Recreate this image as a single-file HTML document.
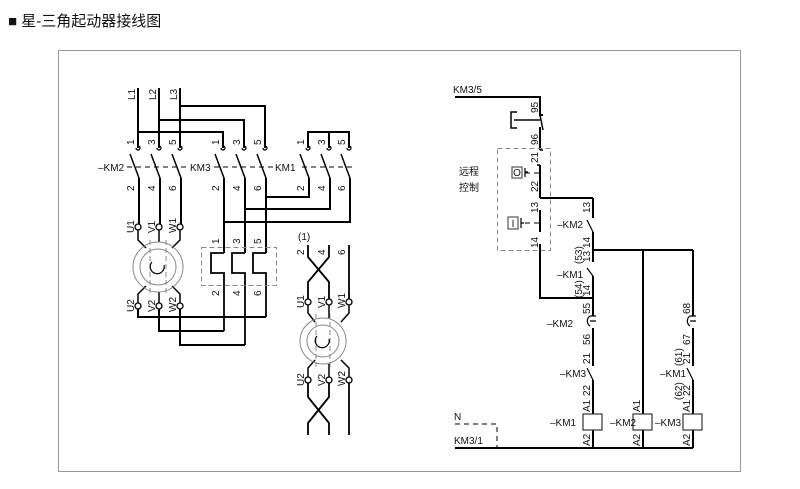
<!DOCTYPE html>
<html><head><meta charset="utf-8"><style>
body{margin:0;background:#fff;width:800px;height:489px;overflow:hidden}
svg{display:block}
text{font-family:"Liberation Sans","Noto Sans CJK SC",sans-serif;font-size:10px;fill:#111}
.t{font-size:15px}
</style></head><body>
<svg width="800" height="489" viewBox="0 0 800 489" xmlns="http://www.w3.org/2000/svg">
<text class="t" x="8" y="26">■ 星-三角起动器接线图</text>
<rect x="58.5" y="50.5" width="682" height="421" fill="none" stroke="#999" stroke-width="1"/>
<g stroke="#000" stroke-width="2" fill="none">
<path d="M138 88V148M159 88V148M180 88V148"/>
<path d="M138 132H223V148M159 120H244V148M180 106H265V148"/>
<path d="M308 148V132H349V148M329 132V148"/>
<path d="M130 154L139 178M151 154L160 178M172 154L181 178M215 154L224 178M236 154L245 178M257 154L266 178M300 154L309 178M321 154L330 178M341 154L350 178" stroke-width="1.5"/>
<path d="M139 178V224M160 178V224M181 178V224"/>
<path d="M224 178V253M245 178V253M266 178V253"/>
<path d="M309 178V197H266M330 178V209H245M350 178V222H224"/>
<path d="M224 253H211V273H224V331M245 253H232V273H245V345M266 253H253V273H266V317" stroke-width="1.8"/>
<path d="M138 309V317H266M159 309V331H224M180 309V345H245"/>
<path d="M138 230V240L146 248M159 230V242M180 230V240L172 248M138 303V294L146 286M159 303V292M180 303V294L172 286" stroke-width="1.5"/>
<path d="M308 245V257L329 282V299M329 245V257L308 282V299M349 245V299" stroke-width="1.8"/>
<path d="M308 305V313L315 322M329 305V318M349 305V313L341 322M308 377V368L315 360M329 377V364M349 377V368L341 360" stroke-width="1.5"/>
<path d="M308 383V397L329 423V435M329 383V397L308 423V435M349 383V435" stroke-width="1.8"/>
<path d="M455 97H540V115H543M540 127V150M540 165V198M540 210V232M540 244V298H593M593 198H540M593 198V218M593 232V262M593 276V316M593 328V366M593 380V414M593 430V448M455 448H693M593 250H693M643 250V414M643 430V448M693 250V316M693 328V366M693 380V414M693 430V448"/>
<path d="M517 112H511V128H517M514 120H540M540 115L543 130M540 150L543 150M540 165H537" stroke-width="1.5"/>
</g>
<g stroke="#000" stroke-width="1.3" fill="#fff">
<circle cx="138" cy="227" r="3"/><circle cx="159" cy="227" r="3"/><circle cx="180" cy="227" r="3"/>
<circle cx="138" cy="306" r="3"/><circle cx="159" cy="306" r="3"/><circle cx="180" cy="306" r="3"/>
<circle cx="308" cy="302" r="3"/><circle cx="329" cy="302" r="3"/><circle cx="349" cy="302" r="3"/>
<circle cx="308" cy="380" r="3"/><circle cx="329" cy="380" r="3"/><circle cx="349" cy="380" r="3"/>
<path d="M136 148a2 2 0 1 0 2 -2M157 148a2 2 0 1 0 2 -2M178 148a2 2 0 1 0 2 -2M221 148a2 2 0 1 0 2 -2M242 148a2 2 0 1 0 2 -2M263 148a2 2 0 1 0 2 -2M306 148a2 2 0 1 0 2 -2M327 148a2 2 0 1 0 2 -2M347 148a2 2 0 1 0 2 -2" fill="none"/>
</g>
<g fill="none" stroke="#888" stroke-width="1">
<circle cx="158" cy="267" r="25"/><circle cx="158" cy="267" r="18"/>
<path d="M150 240V294M166 240V294" stroke-dasharray="5 3"/>
<circle cx="323" cy="341" r="23"/><circle cx="323" cy="341" r="16"/>
<path d="M316 314V368M330 314V368" stroke-dasharray="5 3"/>
<rect x="201.5" y="247.5" width="75" height="38" stroke-dasharray="5 3"/>
<rect x="497.5" y="148.5" width="53" height="102" stroke-dasharray="5 3"/>
</g>
<path d="M152 262a7 7 0 1 0 12 3" fill="none" stroke="#000" stroke-width="1.2"/>
<path d="M317 336a7 7 0 1 0 12 3" fill="none" stroke="#000" stroke-width="1.2"/>
<g stroke="#000" stroke-width="1" stroke-dasharray="5 4" fill="none">
<path d="M127 167H188M214 167H273M302 167H356"/>
<path d="M455 424H497V448"/>
<path d="M525 173H540M525 223H540"/>
</g>
<g fill="none" stroke="#000" stroke-width="1.2">
<rect x="512" y="167" width="10" height="11" stroke="#555"/><path d="M525 168V177M525 172H528"/>
<rect x="508" y="217" width="10" height="12" stroke="#555"/><path d="M521 218V228M521 223H524"/>
<path d="M587 220L593 232M587 268L593 276M587 368L593 380M687 368L693 380" stroke-width="1.2"/>
<path d="M590 316H596M590 321H596M590 316a6 6 0 0 0 0 10M690 316H696M690 321H696M690 316a6 6 0 0 0 0 10"/>
<rect x="583" y="414" width="19" height="16" stroke="#333"/>
<rect x="633" y="414" width="19" height="16" stroke="#333"/>
<rect x="683" y="414" width="19" height="16" stroke="#333"/>
</g>
<g text-anchor="middle">
<text x="517" y="176" font-size="9">O</text><text x="513" y="227" font-size="9">I</text>
</g>
<g>
<text transform="translate(135,100) rotate(-90)">L1</text>
<text transform="translate(156,100) rotate(-90)">L2</text>
<text transform="translate(177,100) rotate(-90)">L3</text>
<text transform="translate(134,145) rotate(-90)">1</text><text transform="translate(155,145) rotate(-90)">3</text><text transform="translate(176,145) rotate(-90)">5</text>
<text transform="translate(219,145) rotate(-90)">1</text><text transform="translate(240,145) rotate(-90)">3</text><text transform="translate(261,145) rotate(-90)">5</text>
<text transform="translate(304,145) rotate(-90)">1</text><text transform="translate(325,145) rotate(-90)">3</text><text transform="translate(345,145) rotate(-90)">5</text>
<text transform="translate(134,191) rotate(-90)">2</text><text transform="translate(155,191) rotate(-90)">4</text><text transform="translate(176,191) rotate(-90)">6</text>
<text transform="translate(219,191) rotate(-90)">2</text><text transform="translate(240,191) rotate(-90)">4</text><text transform="translate(261,191) rotate(-90)">6</text>
<text transform="translate(304,191) rotate(-90)">2</text><text transform="translate(325,191) rotate(-90)">4</text><text transform="translate(345,191) rotate(-90)">6</text>
<text transform="translate(219,244) rotate(-90)">1</text><text transform="translate(240,244) rotate(-90)">3</text><text transform="translate(261,244) rotate(-90)">5</text>
<text transform="translate(219,296) rotate(-90)">2</text><text transform="translate(240,296) rotate(-90)">4</text><text transform="translate(261,296) rotate(-90)">6</text>
<text transform="translate(304,255) rotate(-90)">2</text><text transform="translate(325,255) rotate(-90)">4</text><text transform="translate(345,255) rotate(-90)">6</text>
<text transform="translate(134,233) rotate(-90)">U1</text><text transform="translate(155,233) rotate(-90)">V1</text><text transform="translate(176,233) rotate(-90)">W1</text>
<text transform="translate(134,312) rotate(-90)">U2</text><text transform="translate(155,312) rotate(-90)">V2</text><text transform="translate(176,312) rotate(-90)">W2</text>
<text transform="translate(304,308) rotate(-90)">U1</text><text transform="translate(325,308) rotate(-90)">V1</text><text transform="translate(345,308) rotate(-90)">W1</text>
<text transform="translate(304,386) rotate(-90)">U2</text><text transform="translate(325,386) rotate(-90)">V2</text><text transform="translate(345,386) rotate(-90)">W2</text>
<text transform="translate(538,113) rotate(-90)">95</text>
<text transform="translate(538,145) rotate(-90)">96</text>
<text transform="translate(538,163) rotate(-90)">21</text>
<text transform="translate(538,192) rotate(-90)">22</text>
<text transform="translate(538,213) rotate(-90)">13</text>
<text transform="translate(538,248) rotate(-90)">14</text>
<text transform="translate(590,213) rotate(-90)">13</text>
<text transform="translate(590,248) rotate(-90)">14</text>
<text transform="translate(582,264) rotate(-90)">(53)</text><text transform="translate(590,262) rotate(-90)">13</text>
<text transform="translate(582,298) rotate(-90)">(54)</text><text transform="translate(590,296) rotate(-90)">14</text>
<text transform="translate(590,314) rotate(-90)">55</text>
<text transform="translate(590,345) rotate(-90)">56</text>
<text transform="translate(590,364) rotate(-90)">21</text>
<text transform="translate(590,396) rotate(-90)">22</text>
<text transform="translate(590,412) rotate(-90)">A1</text>
<text transform="translate(590,446) rotate(-90)">A2</text>
<text transform="translate(640,412) rotate(-90)">A1</text>
<text transform="translate(640,446) rotate(-90)">A2</text>
<text transform="translate(690,314) rotate(-90)">68</text>
<text transform="translate(690,345) rotate(-90)">67</text>
<text transform="translate(682,366) rotate(-90)">(61)</text><text transform="translate(690,364) rotate(-90)">21</text>
<text transform="translate(682,400) rotate(-90)">(62)</text><text transform="translate(690,396) rotate(-90)">22</text>
<text transform="translate(690,412) rotate(-90)">A1</text>
<text transform="translate(690,446) rotate(-90)">A2</text>
</g>
<g font-size="10">
<text x="98" y="171">–KM2</text><text x="190" y="171">KM3</text><text x="275" y="171">KM1</text>
<text x="298" y="240">(1)</text>
<text x="453" y="93">KM3/5</text>
<text x="459" y="175">远程</text><text x="459" y="191">控制</text>
<text x="557" y="228">–KM2</text>
<text x="557" y="278">–KM1</text>
<text x="547" y="327">–KM2</text>
<text x="560" y="377">–KM3</text>
<text x="660" y="377">–KM1</text>
<text x="550" y="426">–KM1</text>
<text x="610" y="426">–KM2</text>
<text x="655" y="426">–KM3</text>
<text x="454" y="420">N</text>
<text x="454" y="444">KM3/1</text>
</g>
</svg>
</body></html>
